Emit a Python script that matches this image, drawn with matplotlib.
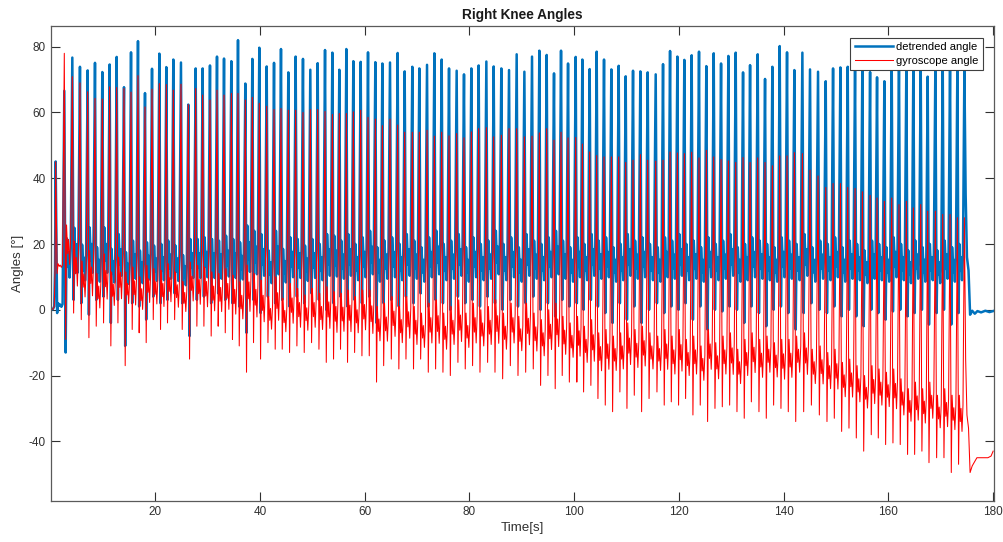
import numpy as np
import matplotlib
matplotlib.use("Agg")
import matplotlib.pyplot as plt

plt.rcParams['font.family'] = ['Liberation Sans', 'DejaVu Sans']
plt.rcParams['axes.unicode_minus'] = False

# ---- data (one entry per gait cycle) ----
peak_times = [0.97, 2.62, 4.15, 5.61, 7.08, 8.48, 9.88, 11.28, 12.62, 14.02,
              15.36, 16.69, 18.03, 19.37, 20.77, 22.10, 23.44, 24.90, 26.30, 27.71,
              29.04, 30.44, 31.78, 33.12, 34.52, 35.79, 37.19, 38.53, 39.86, 41.27,
              42.67, 44.00, 45.40, 46.80, 48.20, 49.60, 51.01, 52.41, 53.81, 55.14,
              56.48, 57.82, 59.22, 60.62, 62.02, 63.36, 64.82, 66.28, 67.62, 69.08,
              70.42, 71.89, 73.29, 74.69, 76.09, 77.55, 78.95, 80.35, 81.75, 83.22,
              84.62, 86.08, 87.55, 89.01, 90.48, 91.94, 93.34, 94.74, 96.14, 97.48,
              98.82, 100.28, 101.55, 102.95, 104.29, 105.69, 107.09, 108.49, 109.83, 111.23,
              112.63, 114.03, 115.56, 116.96, 118.30, 119.70, 121.03, 122.43, 123.83, 125.23,
              126.64, 128.04, 129.44, 130.84, 132.24, 133.58, 135.04, 136.44, 137.84, 139.24,
              140.64, 142.04, 143.57, 145.03, 146.56, 148.03, 149.43, 150.83, 152.23, 153.63,
              155.03, 156.50, 157.83, 159.23, 160.63, 162.02, 163.43, 164.77, 166.17, 167.50,
              168.97, 170.37, 171.77, 173.17, 174.51]

blue_peaks = [45.1, 66.6, 76.7, 73.9, 72.8, 75.1, 72.3, 74.6, 76.9, 67.7,
              78.3, 81.7, 65.9, 73.3, 77.9, 73.8, 76.1, 75.2, 62.4, 73.4,
              73.4, 74.3, 77.0, 76.4, 75.6, 82.0, 68.8, 76.3, 79.7, 74.0,
              75.1, 79.3, 72.2, 77.0, 76.3, 73.0, 75.0, 79.0, 78.2, 73.0,
              79.3, 75.6, 75.4, 78.3, 75.3, 74.9, 75.2, 78.1, 72.5, 73.9,
              73.4, 74.5, 78.0, 76.1, 73.4, 72.7, 71.6, 73.4, 74.3, 75.5,
              74.0, 73.4, 72.9, 77.7, 72.4, 77.0, 78.8, 77.5, 71.9, 78.8,
              74.9, 76.9, 76.1, 73.2, 78.5, 76.1, 73.1, 74.2, 71.0, 72.7,
              72.5, 72.2, 71.6, 74.7, 78.7, 77.0, 76.0, 77.4, 78.5, 74.1,
              78.0, 74.9, 77.2, 78.2, 72.2, 74.4, 77.7, 70.2, 73.9, 80.2,
              78.3, 72.9, 78.2, 73.1, 72.4, 69.5, 73.4, 73.7, 73.9, 74.0,
              75.0, 72.3, 70.7, 69.5, 75.0, 76.0, 75.0, 76.0, 74.0, 70.9,
              75.0, 76.0, 75.0, 74.0, 73.0]

red_peaks = [45.0, 78.0, 70.9, 69.0, 66.3, 64.3, 64.1, 67.8, 67.6, 67.3,
             66.2, 71.2, 61.7, 67.1, 68.8, 68.5, 66.8, 68.6, 62.4, 67.3,
             65.3, 63.8, 66.8, 65.3, 65.8, 65.8, 63.8, 64.6, 62.8, 61.9,
             60.9, 61.2, 60.7, 60.7, 60.0, 60.9, 60.9, 60.3, 59.4, 59.7,
             59.7, 60.2, 60.7, 58.5, 58.0, 56.0, 58.0, 56.2, 54.0, 54.0,
             54.0, 54.6, 52.8, 54.0, 52.9, 53.6, 52.3, 54.1, 55.1, 55.4,
             52.6, 53.1, 55.1, 55.1, 52.6, 52.8, 53.8, 55.1, 51.6, 54.0,
             52.3, 52.4, 50.4, 48.0, 46.9, 46.5, 46.5, 46.5, 44.8, 45.5,
             47.2, 45.5, 45.2, 45.5, 48.0, 47.7, 47.5, 47.9, 46.2, 48.5,
             46.5, 45.7, 45.3, 44.8, 46.3, 44.8, 46.2, 44.8, 43.8, 46.8,
             46.8, 47.8, 47.5, 42.5, 40.7, 37.2, 38.4, 38.4, 37.2, 36.9,
             35.9, 34.8, 34.0, 33.0, 34.0, 32.0, 33.0, 31.0, 32.0, 30.0,
             30.0, 29.0, 29.0, 28.0, 28.0]

blue_mins = [-1, -13, 3, 2, -1.5, 3, 4, -4, 3, -11,
             2, 1, -3, 4, 2, 3, 5, 2, -8, 3,
             4, 2, 5, 3, 2, 1, -7, 3, -1, 4,
             2, 3, 1, 4, 2, 5, 3, 0, 2, 4,
             1, 3, 2, 4, -4, 2, 3, 1, 4, 2,
             5, 1, 3, 2, 0, 4, 2, 3, 1, 4,
             2, 0, 3, 1, 2, 4, 0, 2, -2, 3,
             1, 2, 0, 3, 1, -1, -4, 2, -3, 1,
             -4, 0, 2, -1, 1, 0, 2, -3, 1, -6,
             0, -0.5, 1, 0, -4, 1, -1, -5, 0, 1,
             -1, -6, -1, 2, 0, -1, 1, -2, 0, -2,
             -5, 0, -1, -3, -0.5, 0, -2, -1, 0, -4.5,
             -1, 0, -4.5, -1, -1]

stance_bumps = [2, 21.8, 24.9, 19.8, 25, 19, 25, 18.5, 23, 17.5,
                21, 18, 20.5, 19.5, 20, 21, 19.5, 16.6, 21.5, 21.5,
                22, 21.5, 21, 22.5, 21.5, 20.5, 25.6, 24, 23, 18,
                24, 18.5, 22, 21.5, 19.5, 21.5, 20, 23, 22.5,
                21, 23, 20, 22, 24, 19, 21, 22, 20, 23,
                21, 19, 22, 24, 20, 21, 23, 19, 22, 20,
                21, 24, 20, 22, 19, 23, 21, 20, 22, 24,
                21, 19, 22, 20, 23, 21, 22, 19, 20, 23,
                21, 22, 20, 19, 22, 21, 23, 20, 21, 19,
                22, 20, 21, 23, 19, 20, 22, 21, 20, 19,
                22, 21, 20, 23, 19, 21, 20, 22, 19, 21,
                20, 18, 21, 20, 19, 22, 20, 18, 21, 19,
                20, 18, 21, 19, 20, 19]

red_offsets = [12, 4, -4, -5, -7, -8, -8, -7, -7, -6,
               -8, -8, -7, -7, -8, -7, -8, -8, -7, -8,
               -9, -10, -10, -10, -11, -12, -12, -13, -14, -14,
               -14, -15, -14, -15, -15, -15, -15, -16, -17, -16,
               -17, -16, -16, -18, -18, -19, -18, -19, -19, -20,
               -20, -20, -21, -21, -20, -20, -20, -20, -20, -20,
               -21, -21, -20, -21, -21, -22, -23, -22, -22, -23,
               -23, -24, -25, -26, -28, -28, -27, -27, -27, -27,
               -27, -27, -27, -28, -29, -29, -29, -29, -30, -28,
               -30, -29, -30, -31, -29, -29, -30, -28, -29, -31,
               -30, -28, -30, -31, -32, -33, -34, -35, -36, -37,
               -38, -38, -38, -38, -40, -41, -42, -43, -43, -42,
               -44, -45, -45, -46, -46]

# start and end of the recording
start_t = [0.05, 0.45, 0.70, 0.85]
start_blue = [0.0, 0.2, 1.0, 12.0]
start_red = [0.0, 0.2, 1.0, 12.0]
end_t_blue = [174.75, 175.0, 175.3, 175.6, 176.0, 176.5, 177.0, 177.7, 178.5, 179.3, 180.0]
end_blue = [35, 16, 12, -1.5, -0.3, -1.2, -0.4, -0.8, -0.3, -0.7, -0.4]
end_t_red = [174.75, 175.0, 175.3, 175.6, 176.0, 176.9, 178.0, 179.0, 179.6, 180.0]
end_red = [-15, -32, -36, -49.5, -47.5, -45, -45, -45, -44.5, -43]

# within-cycle shape: fraction of cycle after flexion peak, level relative to stance bump
shape_phase = [0.17, 0.28, 0.42, 0.52, 0.66, 0.80]
shape_level = [None, 1.0, 0.6, 0.8, 0.45, 0.85]

bt, bv = list(start_t), list(start_blue)
rt, rv = list(start_t), list(start_red)
n = len(peak_times)
for i in range(n):
    t0 = peak_times[i]
    bt.append(t0); bv.append(blue_peaks[i])
    rt.append(t0); rv.append(red_peaks[i])
    if i == n - 1:
        break
    P = peak_times[i + 1] - t0
    for ph, lv in zip(shape_phase, shape_level):
        val = blue_mins[i] if lv is None else lv * stance_bumps[i]
        bt.append(t0 + ph * P); bv.append(val)
        rt.append(t0 + ph * P); rv.append(val + red_offsets[i])
bt += end_t_blue; bv += end_blue
rt += end_t_red; rv += end_red

fig = plt.figure(figsize=(10.04, 5.42), dpi=100)
ax = fig.add_axes([0.0508, 0.0762, 0.9389, 0.8758])
ax.plot(bt, bv, color='#0072BD', lw=1.8, label='detrended angle')
ax.plot(rt, rv, color='#FF0000', lw=0.75, label='gyroscope angle')

ax.set_xlim(0.08, 180.1)
ax.set_ylim(-58.07, 86.3)
ax.set_xticks([20, 40, 60, 80, 100, 120, 140, 160, 180])
ax.set_yticks([-40, -20, 0, 20, 40, 60, 80])
ax.tick_params(direction='in', length=6.5, width=0.8, top=True, right=True,
               labelsize=8.5, colors='#303030', pad=4)
for s in ax.spines.values():
    s.set_color('#5a5a5a')
    s.set_linewidth(0.9)

ax.set_title('Right Knee Angles', fontsize=9.8, fontweight='bold', color='#1a1a1a', pad=5)
ax.set_xlabel('Time[s]', fontsize=9.6, color='#303030', labelpad=3)
ax.set_ylabel('Angles [°]', fontsize=9.6, color='#303030', labelpad=3)

leg = ax.legend(loc='upper right', bbox_to_anchor=(0.989, 0.975), borderaxespad=0,
                fontsize=8.0, fancybox=False, framealpha=1, edgecolor='#404040',
                handlelength=3.4, handletextpad=0.35, labelspacing=0.3, borderpad=0.4)
leg.get_frame().set_linewidth(0.8)

fig.savefig('out.png', dpi=100)
